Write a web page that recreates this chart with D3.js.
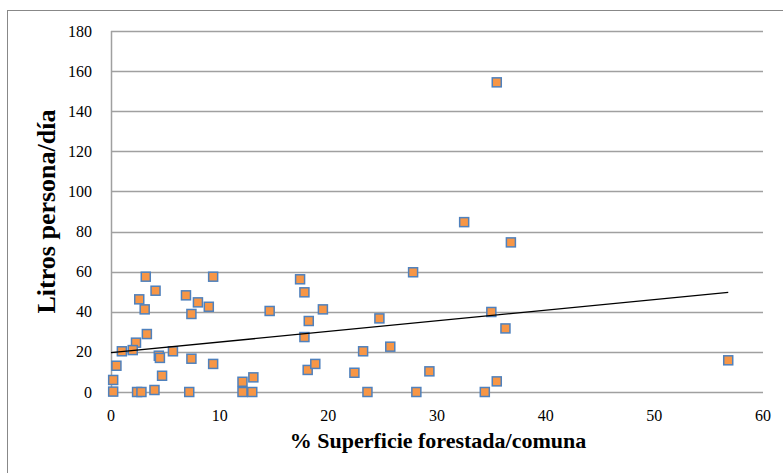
<!DOCTYPE html>
<html>
<head>
<meta charset="utf-8">
<script src="https://cdn.jsdelivr.net/npm/d3@7/dist/d3.min.js"></script>
<style>
    body { margin: 0; background: #fff; }
    svg text { font-family: "Liberation Serif", "Times New Roman", serif; fill: #000; }
</style>
</head>
<body>
<div id="chart"></div>
<script>
    "use strict";
    // % superficie forestada por comuna
    var forestPct = [3.2, 9.4, 4.1, 2.6, 3.1, 6.9, 8.0, 9.0, 7.4, 14.6,
                     17.4, 17.8, 19.5, 18.2, 17.8, 3.3, 2.3, 1.0, 2.0, 4.4,
                     4.5, 5.7, 0.5, 7.4, 9.4, 4.7, 0.2, 0.2, 2.4, 2.8,
                     4.0, 7.2, 12.1, 12.1, 13.1, 13.0, 32.5, 36.8, 27.8, 24.7,
                     35.0, 36.3, 23.2, 25.7, 22.4, 29.3, 35.5, 23.6, 28.1, 34.4,
                     18.1, 18.8, 35.5, 56.8];
    // litros por persona al dia
    var litros = [57.5, 57.5, 50.5, 46.2, 41.2, 48.2, 44.7, 42.5, 38.9, 40.4,
                  56.2, 49.7, 41.2, 35.4, 27.4, 28.9, 24.6, 20.3, 20.9, 18.1,
                  17.0, 20.3, 13.1, 16.6, 14.0, 8.1, 6.0, 0.2, 0, 0,
                  1.0, 0, 5.1, 0, 7.3, 0, 84.7, 74.6, 59.7, 36.7,
                  39.9, 31.7, 20.3, 22.6, 9.6, 10.3, 5.3, 0, 0, 0,
                  11.0, 14.0, 154.4, 15.8];
    // linea de tendencia lineal
    var trendIntercept = 19.6,
        trendSlope = 0.53;
    var xTicks = [0, 10, 20, 30, 40, 50, 60],
        yTicks = [0, 20, 40, 60, 80, 100, 120, 140, 160, 180];

    var width = 783, height = 473;
    var svg = d3.select("#chart").append("svg")
        .attr("width", width).attr("height", height);

    // outer chart frame
    svg.append("rect")
        .attr("x", 7.5).attr("y", 10.5)
        .attr("width", 800).attr("height", 500)
        .attr("fill", "none").attr("stroke", "#888").attr("stroke-width", 1);

    var x = d3.scaleLinear().domain([0, 60]).range([111, 763]),
        y = d3.scaleLinear().domain([0, 180]).range([392, 31]);

    // horizontal grid
    svg.append("g").selectAll("line").data(yTicks).join("line")
        .attr("x1", x(0)).attr("x2", x(60))
        .attr("y1", function (d) { return Math.round(y(d)) + 0.5; })
        .attr("y2", function (d) { return Math.round(y(d)) + 0.5; })
        .attr("stroke", "#a0a0a0").attr("stroke-width", 1.5);

    // vertical axis line
    svg.append("line")
        .attr("x1", x(0) + 0.5).attr("x2", x(0) + 0.5)
        .attr("y1", y(180)).attr("y2", y(0))
        .attr("stroke", "#a0a0a0").attr("stroke-width", 1.5);

    // tick labels
    svg.append("g").selectAll("text").data(yTicks).join("text")
        .attr("x", 92).attr("y", function (d) { return y(d); })
        .attr("dy", "0.35em").attr("text-anchor", "end")
        .style("font-size", "16px")
        .text(function (d) { return d; });

    svg.append("g").selectAll("text").data(xTicks).join("text")
        .attr("x", function (d) { return x(d); }).attr("y", 415)
        .attr("dy", "0.35em").attr("text-anchor", "middle")
        .style("font-size", "16px")
        .text(function (d) { return d; });

    // axis titles
    svg.append("text")
        .attr("transform", "translate(55," + y(90) + ") rotate(-90)")
        .attr("text-anchor", "middle")
        .style("font-size", "26px").style("font-weight", "bold")
        .text("Litros persona/día");

    svg.append("text")
        .attr("x", 438).attr("y", 448)
        .attr("text-anchor", "middle")
        .style("font-size", "22px").style("font-weight", "bold")
        .text("% Superficie forestada/comuna");

    // points
    var points = forestPct.map(function (v, i) { return {x: v, y: litros[i]}; });
    var size = 9;
    svg.append("g").selectAll("rect").data(points).join("rect")
        .attr("x", function (d) { return x(d.x) - size / 2; })
        .attr("y", function (d) { return y(d.y) - size / 2; })
        .attr("width", size).attr("height", size)
        .attr("fill", "#f79646")
        .attr("stroke", "#4f81bd").attr("stroke-width", 1.5);

    // trend line
    var xMax = d3.max(forestPct);
    svg.append("line")
        .attr("x1", x(0)).attr("y1", y(trendIntercept))
        .attr("x2", x(xMax)).attr("y2", y(trendIntercept + trendSlope * xMax))
        .attr("stroke", "#000").attr("stroke-width", 1.3);
</script>
</body>
</html>
